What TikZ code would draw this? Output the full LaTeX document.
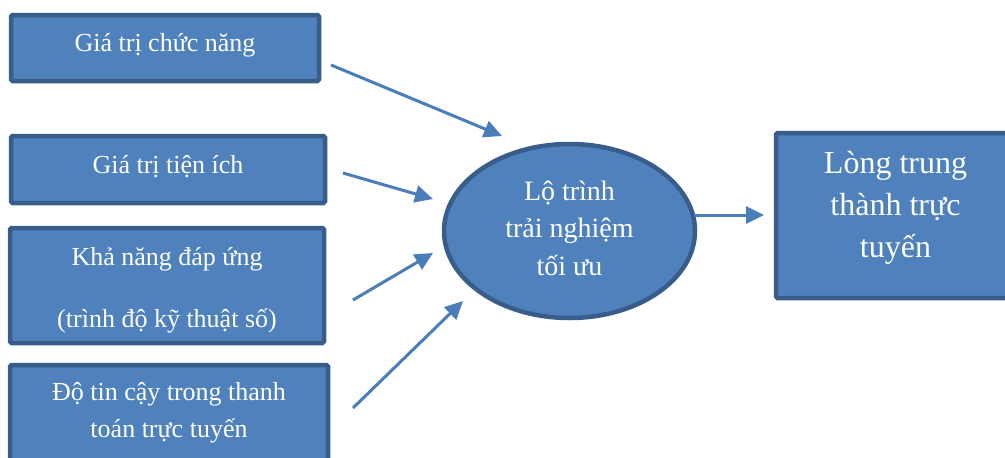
\documentclass[tikz,border=0pt]{standalone}
\usepackage{fontspec}
\setmainfont{Liberation Serif}
\usepackage{xcolor}
\usepackage{tikz}
\usetikzlibrary{arrows.meta,shapes,positioning}
\definecolor{boxfill}{HTML}{4F81BD}
\definecolor{boxline}{HTML}{385D8A}
\definecolor{arrowcol}{HTML}{4A7EBB}
\tikzset{block/.style={draw=boxline, fill=boxfill, rectangle, line width=4.5pt,
		rounded corners=1.5pt, text=white, align=center, inner sep=0pt,
		font=\fontsize{26}{37}\selectfont},
	oval/.style={draw=boxline, fill=boxfill, ellipse, line width=4.5pt,
		text=white, align=center, inner sep=0pt,
		font=\fontsize{28}{37.5}\selectfont},
	arrow/.style={draw=arrowcol, line width=3pt,
		-{Triangle[length=18pt,width=17pt]}}}

\begin{document}
\begin{tikzpicture}[x=1pt,y=-1pt]
		\useasboundingbox (0,0) rectangle (1005,458);
		\clip (0,0) rectangle (1005,458);
		\node[block, minimum width=308pt, minimum height=66pt,
		text height=6pt, text depth=0pt](f1)at(165,48){Giá trị chức năng};
		\node[block, minimum width=314pt, minimum height=67pt,
		text height=7pt, text depth=0pt](f2)at(168,169.5){Giá trị tiện ích};
		\node[block, minimum width=314pt, minimum height=115pt,
		text height=83pt, text depth=0pt](f3)at(167,285.5){Khả năng đáp ứng\\[25pt](trình độ kỹ thuật số)};
		\node[block, minimum width=318pt, minimum height=115pt,
		text height=29pt, text depth=0pt](f4)at(169,422.5){Độ tin cậy trong thanh\\toán trực tuyến};
		
		\node[oval, minimum width=251pt, minimum height=174pt,
		text height=88pt, text depth=0pt](lt)at(569.5,231){Lộ trình\\trải nghiệm\\tối ưu};
		
		\node[block, minimum width=239pt, minimum height=165pt,
		font=\fontsize{32}{42}\selectfont,
		text height=83pt, text depth=0pt](ltt)at(895.5,215.5){Lòng trung\\thành trực\\tuyến};
		
		\coordinate(s1)at(331,65);  \coordinate(e1)at(502,136);
		\coordinate(s2)at(343,173); \coordinate(e2)at(433,199);
		\coordinate(s3)at(353,300); \coordinate(e3)at(433,253);
		\coordinate(s4)at(353,408); \coordinate(e4)at(463,301);
		\coordinate(s5)at(694,215); \coordinate(e5)at(764,215);
		
		\foreach \x in{1,2,3,4,5}
		\draw[arrow](s\x)--(e\x);
	\end{tikzpicture}
\end{document}
